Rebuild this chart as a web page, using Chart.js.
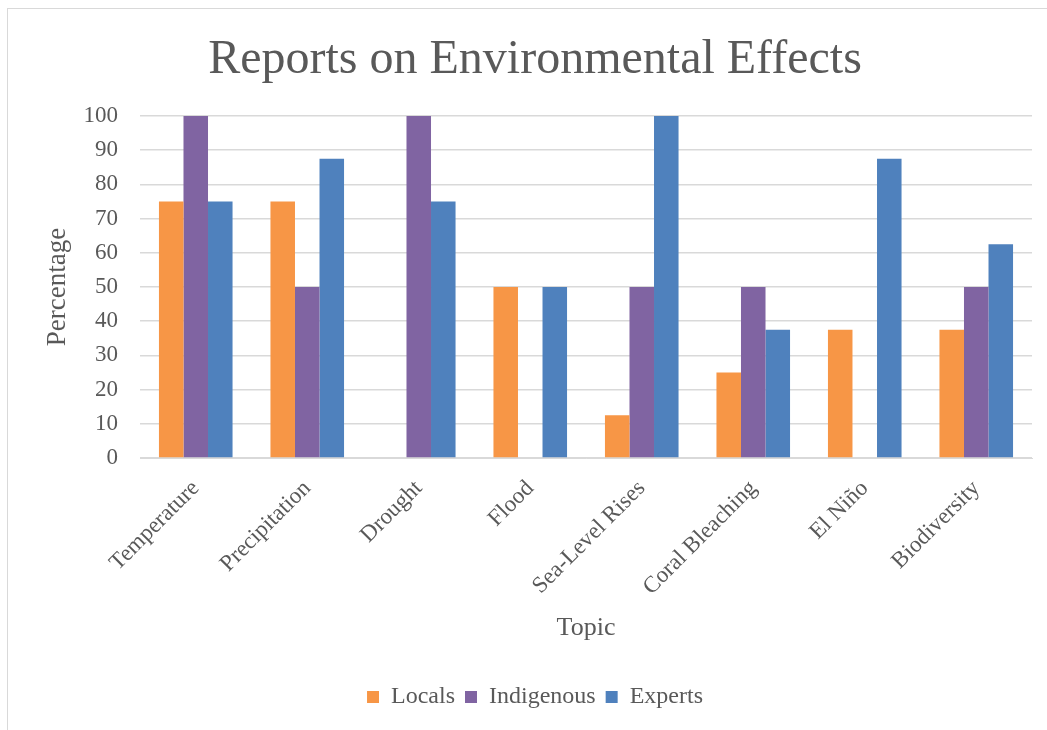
<!DOCTYPE html>
<html>
<head>
<meta charset="utf-8">
<script src="https://cdn.jsdelivr.net/npm/chart.js@4"></script>
<style>
  html, body { margin: 0; padding: 0; background: #fff; overflow: hidden; }
  #frame { position: absolute; left: 7px; top: 8px; width: 1200px; height: 800px;
    border-left: 1px solid #d9d9d9; border-top: 1px solid #d9d9d9; }
  #wrap { position: absolute; left: 0; top: 0; width: 1062px; height: 730px; }
</style>
</head>
<body>
<div id="frame"></div>
<div id="wrap"><canvas id="myChart"></canvas></div>
<script>
const textGrey = '#595959'
const gridGrey = '#D9D9D9'

// data
const topics = ['Temperature', 'Precipitation', 'Drought', 'Flood', 'Sea-Level Rises', 'Coral Bleaching', 'El Niño', 'Biodiversity']
const locals = [75, 75, 0, 50, 12.5, 25, 37.5, 37.5]
const indigenous = [100, 50, 100, 0, 50, 50, 0, 50]
const experts = [75, 87.5, 75, 50, 100, 37.5, 87.5, 62.5]
const yTicks = [0, 10, 20, 30, 40, 50, 60, 70, 80, 90, 100]

const serif = 'Liberation Serif'

new Chart(document.getElementById('myChart'), {
  type: 'bar',
  data: {
    labels: topics,
    datasets: [
      { label: 'Locals', data: locals, backgroundColor: '#F79646' },
      { label: 'Indigenous', data: indigenous, backgroundColor: '#8064A2' },
      { label: 'Experts', data: experts, backgroundColor: '#4F81BD' }
    ]
  },
  options: {
    responsive: true,
    maintainAspectRatio: false,
    animation: false,
    datasets: {
      bar: { categoryPercentage: 0.66, barPercentage: 1 }
    },
    layout: { padding: { top: 8, left: 8, right: 0, bottom: 11 } },
    scales: {
      x: {
        grid: { display: false, drawTicks: false },
        border: { color: gridGrey },
        ticks: {
          color: textGrey, font: { family: serif, size: 23 },
          minRotation: 45, maxRotation: 45, autoSkip: false, padding: 17
        },
        title: {
          display: true, text: 'Topic', color: textGrey,
          font: { family: serif, size: 26 }, padding: { top: 0, bottom: 31 }
        },
        afterFit: s => { s.height = 217 }
      },
      y: {
        min: 0, max: 100,
        afterBuildTicks: s => { s.ticks = yTicks.map(v => ({ value: v })) },
        grid: { color: gridGrey, drawTicks: false, lineWidth: 1.5 },
        border: { display: false },
        ticks: { color: textGrey, font: { family: serif, size: 23 }, padding: 22 },
        title: {
          display: true, text: 'Percentage', color: textGrey,
          font: { family: serif, size: 27 }, padding: { top: 34, bottom: 0 }
        },
        afterFit: s => { s.width = 132 }
      },
      yRight: {
        position: 'right',
        grid: { display: false, drawTicks: false },
        border: { display: false },
        ticks: { display: false },
        afterFit: s => { s.width = 30 }
      }
    },
    plugins: {
      title: {
        display: true,
        text: 'Reports on Environmental Effects',
        color: textGrey,
        font: { family: serif, size: 48, weight: 'normal', lineHeight: 1.2 },
        padding: { top: 24, bottom: 26.4 }
      },
      legend: {
        position: 'bottom',
        labels: {
          color: textGrey, font: { family: serif, size: 24 },
          boxWidth: 12, boxHeight: 12, padding: 10
        }
      },
      tooltip: { enabled: false }
    }
  }
});
</script>
</body>
</html>
